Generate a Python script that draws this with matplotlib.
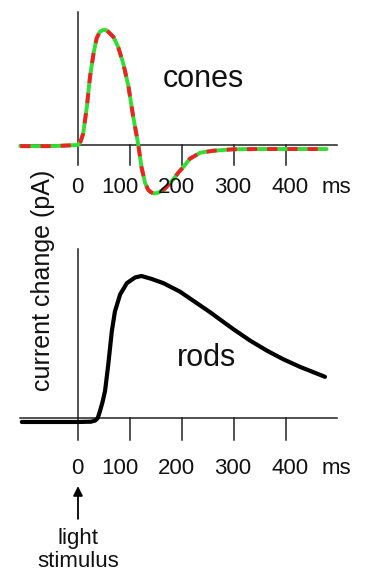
import matplotlib
matplotlib.use('Agg')
import matplotlib.pyplot as plt

plt.rcParams['font.family'] = ['Liberation Sans', 'DejaVu Sans']

# cone photocurrent (time in ms, relative current)
cone_t = [-111, -50, 0, 5, 10, 17, 23, 30, 36, 42, 48, 53, 58, 68, 77,
          87, 97, 106, 116, 122, 129, 135, 140, 145, 150, 154, 160, 167,
          175, 183, 193, 203, 215, 235, 260, 299, 356, 408, 478]
cone_i = [-0.01, -0.01, 0.0, 0.03, 0.10, 0.33, 0.59, 0.80, 0.93, 0.985,
          1.0, 1.0, 0.985, 0.94, 0.855, 0.71, 0.51, 0.25, 0.0, -0.19,
          -0.33, -0.39, -0.41, -0.42, -0.42, -0.415, -0.40, -0.38, -0.34,
          -0.30, -0.24, -0.19, -0.12, -0.067, -0.05, -0.037, -0.035,
          -0.035, -0.035]

# rod photocurrent
rod_t = [-108, -50, 0, 25, 33, 38, 42, 47, 52, 58, 65, 71, 81, 94, 110,
         122, 141, 164, 196, 228, 254, 267, 299, 331, 363, 394, 427, 475]
rod_i = [-0.028, -0.028, -0.028, -0.026, -0.018, 0.0, 0.045, 0.11, 0.19,
         0.37, 0.61, 0.75, 0.87, 0.95, 0.99, 1.0, 0.98, 0.95, 0.89, 0.81,
         0.745, 0.71, 0.625, 0.545, 0.475, 0.415, 0.36, 0.29]

ticks = [100, 200, 300, 400]
tick_labels = ['0', '100', '200', '300', '400', 'ms']
label_x = [-2, 80, 190, 298, 407, 496]

W, H = 369, 579
fig = plt.figure(figsize=(W / 100, H / 100), dpi=100)

xlim = (-78 / 0.52, (W - 78) / 0.52)

# top panel: pixels 0..230, baseline at 145, peak at 30
top = fig.add_axes([0, 1 - 230 / H, 1, 230 / H])
top.set_xlim(*xlim)
top.set_ylim(-85 / 115, 145 / 115)
top.axis('off')

# bottom panel: pixels 230..579, baseline at 418, peak at 276
bot = fig.add_axes([0, 0, 1, (H - 230) / H])
bot.set_xlim(*xlim)
bot.set_ylim(-(H - 418) / 142, (418 - 230) / 142)
bot.axis('off')

axis_col = '#222222'
for ax, ytop, ybot, ylab in [(top, 1.157, -0.174, -0.37),
                             (bot, 1.19, -0.155, -0.355)]:
    ax.plot([-111, 498], [0, 0], color=axis_col, lw=1.1)
    ax.plot([0, 0], [ybot, ytop], color=axis_col, lw=1.1)
    for t in ticks:
        ax.plot([t, t], [0, ybot], color=axis_col, lw=1.1)
    for lx, lab in zip(label_x, tick_labels):
        ax.text(lx, ylab, lab, ha='center', va='center', fontsize=16,
                color='#111111')

top.plot(cone_t, cone_i, color='#33dd33', lw=2.8, solid_capstyle='round',
         solid_joinstyle='round')
top.plot(cone_t, cone_i, color='#ee2222', lw=2.8, dashes=(2.6, 2.6))
top.text(242, 0.57, 'cones', ha='center', va='center', fontsize=22,
         color='#111111')

bot.plot(rod_t, rod_i, color='black', lw=3.0, solid_capstyle='round',
         solid_joinstyle='round')
bot.text(248, 0.42, 'rods', ha='center', va='center', fontsize=22,
         color='#111111')

bot.annotate('', xy=(0, -0.46), xytext=(0, -0.73),
             arrowprops=dict(arrowstyle='-|>', color='black', lw=1.3,
                             mutation_scale=14))
bot.text(0, -0.85, 'light', ha='center', va='center', fontsize=16,
         color='#111111')
bot.text(0, -1.01, 'stimulus', ha='center', va='center', fontsize=16,
         color='#111111')

fig.text(43 / W, 1 - 280 / H, 'current change (pA)', rotation=90,
         ha='center', va='center', fontsize=18, color='#111111')

fig.savefig('out.png', dpi=100)
